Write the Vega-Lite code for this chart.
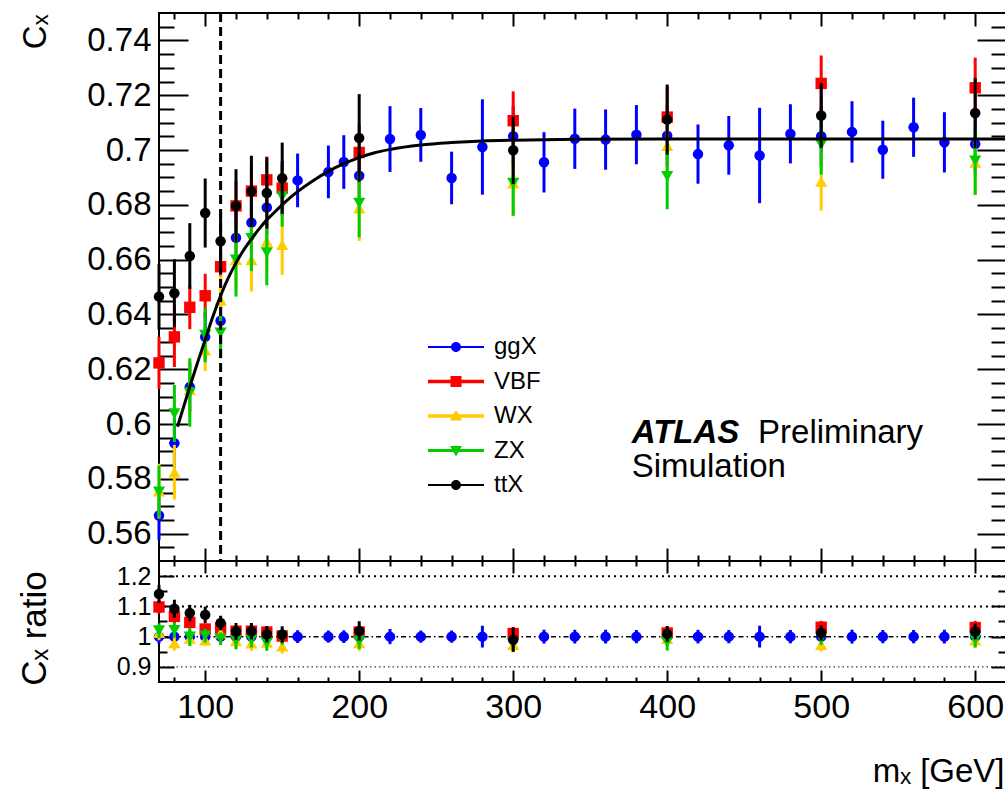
{
  "$schema": "https://vega.github.io/schema/vega-lite/v6.json",
  "padding": {"left": 16, "top": 10, "right": 2, "bottom": 0},
  "background": "white",
  "spacing": 0,
  "bounds": "flush",
  "resolve": {"scale": {"shape": "independent", "color": "independent"}, "legend": {"shape": "independent", "color": "independent"}},
  "datasets": {
    "main": [
      {"m":70,"s":"ggX","v":0.5666,"e":0.009},{"m":80,"s":"ggX","v":0.593,"e":0.009},{"m":90,"s":"ggX","v":0.6135,"e":0.009},{"m":100,"s":"ggX","v":0.6318,"e":0.009},{"m":110,"s":"ggX","v":0.6377,"e":0.009},{"m":120,"s":"ggX","v":0.668,"e":0.01},{"m":130,"s":"ggX","v":0.6735,"e":0.01},{"m":140,"s":"ggX","v":0.679,"e":0.01},{"m":150,"s":"ggX","v":0.686,"e":0.01},{"m":160,"s":"ggX","v":0.6889,"e":0.0098},{"m":180,"s":"ggX","v":0.692,"e":0.0096},{"m":190,"s":"ggX","v":0.6956,"e":0.0098},{"m":200,"s":"ggX","v":0.6906,"e":0.01},{"m":220,"s":"ggX","v":0.704,"e":0.012},{"m":240,"s":"ggX","v":0.7055,"e":0.0098},{"m":260,"s":"ggX","v":0.6898,"e":0.0096},{"m":280,"s":"ggX","v":0.7011,"e":0.0174},{"m":300,"s":"ggX","v":0.705,"e":0.011},{"m":320,"s":"ggX","v":0.6955,"e":0.011},{"m":340,"s":"ggX","v":0.7041,"e":0.011},{"m":360,"s":"ggX","v":0.7038,"e":0.011},{"m":380,"s":"ggX","v":0.7056,"e":0.0108},{"m":400,"s":"ggX","v":0.7052,"e":0.011},{"m":420,"s":"ggX","v":0.6985,"e":0.0108},{"m":440,"s":"ggX","v":0.7017,"e":0.0107},{"m":460,"s":"ggX","v":0.698,"e":0.0174},{"m":480,"s":"ggX","v":0.7059,"e":0.0108},{"m":500,"s":"ggX","v":0.705,"e":0.011},{"m":520,"s":"ggX","v":0.7066,"e":0.0112},{"m":540,"s":"ggX","v":0.7001,"e":0.0106},{"m":560,"s":"ggX","v":0.7083,"e":0.0108},{"m":580,"s":"ggX","v":0.7028,"e":0.011},{"m":600,"s":"ggX","v":0.7022,"e":0.011},
      {"m":70,"s":"VBF","v":0.6223,"e":0.0095},{"m":80,"s":"VBF","v":0.6318,"e":0.011},{"m":90,"s":"VBF","v":0.6426,"e":0.008},{"m":100,"s":"VBF","v":0.6468,"e":0.008},{"m":110,"s":"VBF","v":0.6574,"e":0.008},{"m":120,"s":"VBF","v":0.6796,"e":0.009},{"m":130,"s":"VBF","v":0.685,"e":0.009},{"m":140,"s":"VBF","v":0.6891,"e":0.0085},{"m":150,"s":"VBF","v":0.6861,"e":0.009},{"m":200,"s":"VBF","v":0.6991,"e":0.01},{"m":300,"s":"VBF","v":0.7107,"e":0.0107},{"m":400,"s":"VBF","v":0.712,"e":0.011},{"m":500,"s":"VBF","v":0.7243,"e":0.0102},{"m":600,"s":"VBF","v":0.7227,"e":0.011},
      {"m":70,"s":"WX","v":0.5755,"e":0.01},{"m":80,"s":"WX","v":0.5824,"e":0.01},{"m":90,"s":"WX","v":0.6125,"e":0.01},{"m":100,"s":"WX","v":0.6269,"e":0.0076},{"m":110,"s":"WX","v":0.6452,"e":0.009},{"m":120,"s":"WX","v":0.66,"e":0.011},{"m":130,"s":"WX","v":0.6599,"e":0.0116},{"m":140,"s":"WX","v":0.6666,"e":0.011},{"m":150,"s":"WX","v":0.6654,"e":0.011},{"m":200,"s":"WX","v":0.6788,"e":0.012},{"m":300,"s":"WX","v":0.6879,"e":0.012},{"m":400,"s":"WX","v":0.7016,"e":0.012},{"m":500,"s":"WX","v":0.6885,"e":0.0106},{"m":600,"s":"WX","v":0.6955,"e":0.012},
      {"m":70,"s":"ZX","v":0.5753,"e":0.0095},{"m":80,"s":"ZX","v":0.6038,"e":0.0104},{"m":90,"s":"ZX","v":0.6115,"e":0.0125},{"m":100,"s":"ZX","v":0.6325,"e":0.01},{"m":110,"s":"ZX","v":0.6333,"e":0.0093},{"m":120,"s":"ZX","v":0.6599,"e":0.0134},{"m":130,"s":"ZX","v":0.6678,"e":0.012},{"m":140,"s":"ZX","v":0.6626,"e":0.012},{"m":150,"s":"ZX","v":0.683,"e":0.011},{"m":200,"s":"ZX","v":0.6806,"e":0.0125},{"m":300,"s":"ZX","v":0.6879,"e":0.0119},{"m":400,"s":"ZX","v":0.6904,"e":0.012},{"m":500,"s":"ZX","v":0.702,"e":0.011},{"m":600,"s":"ZX","v":0.6961,"e":0.0124},
      {"m":70,"s":"ttX","v":0.6465,"e":0.012},{"m":80,"s":"ttX","v":0.6477,"e":0.0124},{"m":90,"s":"ttX","v":0.6613,"e":0.012},{"m":100,"s":"ttX","v":0.677,"e":0.0126},{"m":110,"s":"ttX","v":0.6667,"e":0.011},{"m":120,"s":"ttX","v":0.6796,"e":0.0134},{"m":130,"s":"ttX","v":0.6849,"e":0.013},{"m":140,"s":"ttX","v":0.6843,"e":0.013},{"m":150,"s":"ttX","v":0.6897,"e":0.013},{"m":200,"s":"ttX","v":0.7044,"e":0.016},{"m":300,"s":"ttX","v":0.6999,"e":0.0123},{"m":400,"s":"ttX","v":0.7111,"e":0.0128},{"m":500,"s":"ttX","v":0.7126,"e":0.0118},{"m":600,"s":"ttX","v":0.7135,"e":0.0128}
    ],
    "ratio": [
      {"m":70,"s":"ggX","r":1,"e":0.023},{"m":80,"s":"ggX","r":1,"e":0.021},{"m":90,"s":"ggX","r":1,"e":0.021},{"m":100,"s":"ggX","r":1,"e":0.021},{"m":110,"s":"ggX","r":1,"e":0.021},{"m":120,"s":"ggX","r":1,"e":0.021},{"m":130,"s":"ggX","r":1,"e":0.021},{"m":140,"s":"ggX","r":1,"e":0.021},{"m":150,"s":"ggX","r":1,"e":0.021},{"m":160,"s":"ggX","r":1,"e":0.021},{"m":180,"s":"ggX","r":1,"e":0.02},{"m":190,"s":"ggX","r":1,"e":0.021},{"m":200,"s":"ggX","r":1,"e":0.021},{"m":220,"s":"ggX","r":1,"e":0.025},{"m":240,"s":"ggX","r":1,"e":0.02},{"m":260,"s":"ggX","r":1,"e":0.02},{"m":280,"s":"ggX","r":1,"e":0.036},{"m":300,"s":"ggX","r":1,"e":0.0226},{"m":320,"s":"ggX","r":1,"e":0.023},{"m":340,"s":"ggX","r":1,"e":0.0227},{"m":360,"s":"ggX","r":1,"e":0.0227},{"m":380,"s":"ggX","r":1,"e":0.022},{"m":400,"s":"ggX","r":1,"e":0.0226},{"m":420,"s":"ggX","r":1,"e":0.0224},{"m":440,"s":"ggX","r":1,"e":0.022},{"m":460,"s":"ggX","r":1,"e":0.036},{"m":480,"s":"ggX","r":1,"e":0.022},{"m":500,"s":"ggX","r":1,"e":0.0226},{"m":520,"s":"ggX","r":1,"e":0.023},{"m":540,"s":"ggX","r":1,"e":0.022},{"m":560,"s":"ggX","r":1,"e":0.022},{"m":580,"s":"ggX","r":1,"e":0.0227},{"m":600,"s":"ggX","r":1,"e":0.0227},
      {"m":70,"s":"VBF","r":1.098,"e":0.022},{"m":80,"s":"VBF","r":1.067,"e":0.025},{"m":90,"s":"VBF","r":1.047,"e":0.019},{"m":100,"s":"VBF","r":1.025,"e":0.019},{"m":110,"s":"VBF","r":1.028,"e":0.018},{"m":120,"s":"VBF","r":1.018,"e":0.019},{"m":130,"s":"VBF","r":1.018,"e":0.019},{"m":140,"s":"VBF","r":1.015,"e":0.018},{"m":150,"s":"VBF","r":1.002,"e":0.019},{"m":200,"s":"VBF","r":1.015,"e":0.021},{"m":300,"s":"VBF","r":1.01,"e":0.022},{"m":400,"s":"VBF","r":1.012,"e":0.022},{"m":500,"s":"VBF","r":1.031,"e":0.021},{"m":600,"s":"VBF","r":1.03,"e":0.022},
      {"m":70,"s":"WX","r":1.013,"e":0.025},{"m":80,"s":"WX","r":0.979,"e":0.025},{"m":90,"s":"WX","r":0.994,"e":0.024},{"m":100,"s":"WX","r":0.988,"e":0.018},{"m":110,"s":"WX","r":1.011,"e":0.02},{"m":120,"s":"WX","r":0.986,"e":0.024},{"m":130,"s":"WX","r":0.978,"e":0.025},{"m":140,"s":"WX","r":0.981,"e":0.024},{"m":150,"s":"WX","r":0.968,"e":0.024},{"m":200,"s":"WX","r":0.979,"e":0.026},{"m":300,"s":"WX","r":0.973,"e":0.025},{"m":400,"s":"WX","r":0.993,"e":0.025},{"m":500,"s":"WX","r":0.973,"e":0.022},{"m":600,"s":"WX","r":0.988,"e":0.025},
      {"m":70,"s":"ZX","r":1.02,"e":0.024},{"m":80,"s":"ZX","r":1.021,"e":0.025},{"m":90,"s":"ZX","r":0.999,"e":0.03},{"m":100,"s":"ZX","r":1.003,"e":0.023},{"m":110,"s":"ZX","r":0.993,"e":0.021},{"m":120,"s":"ZX","r":0.987,"e":0.029},{"m":130,"s":"ZX","r":0.99,"e":0.026},{"m":140,"s":"ZX","r":0.979,"e":0.026},{"m":150,"s":"ZX","r":0.996,"e":0.023},{"m":200,"s":"ZX","r":0.985,"e":0.026},{"m":300,"s":"ZX","r":0.976,"e":0.025},{"m":400,"s":"ZX","r":0.982,"e":0.028},{"m":500,"s":"ZX","r":0.996,"e":0.023},{"m":600,"s":"ZX","r":0.99,"e":0.026},
      {"m":70,"s":"ttX","r":1.141,"e":0.03},{"m":80,"s":"ttX","r":1.092,"e":0.03},{"m":90,"s":"ttX","r":1.078,"e":0.027},{"m":100,"s":"ttX","r":1.072,"e":0.027},{"m":110,"s":"ttX","r":1.045,"e":0.024},{"m":120,"s":"ttX","r":1.017,"e":0.028},{"m":130,"s":"ttX","r":1.018,"e":0.027},{"m":140,"s":"ttX","r":1.008,"e":0.027},{"m":150,"s":"ttX","r":1.007,"e":0.027},{"m":200,"s":"ttX","r":1.019,"e":0.032},{"m":300,"s":"ttX","r":0.99,"e":0.04},{"m":400,"s":"ttX","r":1.009,"e":0.026},{"m":500,"s":"ttX","r":1.012,"e":0.025},{"m":600,"s":"ttX","r":1.017,"e":0.026}
    ],
    "fit": [
      {"m":82,"v":0.599},{"m":86,"v":0.6063},{"m":90,"v":0.6136},{"m":95,"v":0.6223},{"m":100,"v":0.6308},{"m":105,"v":0.6392},{"m":110,"v":0.6468},{"m":115,"v":0.6533},{"m":120,"v":0.6588},{"m":125,"v":0.6635},{"m":130,"v":0.6675},{"m":135,"v":0.6712},{"m":140,"v":0.6745},{"m":145,"v":0.6773},{"m":150,"v":0.68},{"m":155,"v":0.6825},{"m":160,"v":0.6848},{"m":170,"v":0.6888},{"m":180,"v":0.6922},{"m":190,"v":0.695},{"m":200,"v":0.6972},{"m":210,"v":0.699},{"m":220,"v":0.7002},{"m":240,"v":0.7018},{"m":260,"v":0.7027},{"m":280,"v":0.7033},{"m":300,"v":0.7036},{"m":340,"v":0.7039},{"m":400,"v":0.704},{"m":500,"v":0.704},{"m":620,"v":0.704}
    ]
  },
  "vconcat": [
    {
      "width": 847,
      "height": 548,
      "data": {"name": "main"},
      "resolve": {"axis": {"x": "independent", "y": "independent"}},
      "layer": [
        {"transform":[{"filter":"datum.s === 'ggX'"}],"mark":{"type":"errorbar","color":"#0000ff","thickness":3},
         "encoding":{"x":{"field":"m","type":"quantitative","scale":{"domain":[70,620],"nice":false,"zero":false},"axis":null},"y":{"field":"v","type":"quantitative","scale":{"domain":[0.55,0.75],"nice":false,"zero":false},"axis":null},"yError":{"field":"e"}}},
        {"transform":[{"filter":"datum.s === 'ggX'"}],"mark":{"type":"point","shape":"circle","filled":true,"color":"#0000ff","size":110,"opacity":1},
         "encoding":{"x":{"field":"m","type":"quantitative","scale":{"domain":[70,620],"nice":false,"zero":false},
           "axis":{"orient":"bottom","values":[100,200,300,400,500,600],"labels":false,"tickSize":-13,"title":null}},
           "y":{"field":"v","type":"quantitative","scale":{"domain":[0.55,0.75],"nice":false,"zero":false},
           "axis":{"orient":"left","values":[0.56,0.58,0.6,0.62,0.64,0.66,0.68,0.7,0.72,0.74],"format":"~g","ticks":false,"labelPadding":8,"labelFontSize":33,"title":"Cₓ","titleFontSize":33,"titleX":-114,"titleY":1,"titleAngle":-90,"titleAlign":"right","titleBaseline":"alphabetic"}}}},
        {"transform":[{"filter":"datum.s === 'VBF'"}],"mark":{"type":"errorbar","color":"#ff0000","thickness":3},
         "encoding":{"x":{"field":"m","type":"quantitative","scale":{"domain":[70,620],"nice":false,"zero":false},"axis":null},"y":{"field":"v","type":"quantitative","scale":{"domain":[0.55,0.75],"nice":false,"zero":false},"axis":null},"yError":{"field":"e"}}},
        {"transform":[{"filter":"datum.s === 'VBF'"}],"mark":{"type":"point","shape":"square","filled":true,"color":"#ff0000","size":130,"opacity":1},
         "encoding":{"x":{"field":"m","type":"quantitative","scale":{"domain":[70,620],"nice":false,"zero":false},
           "axis":{"orient":"bottom","values":[80,120,140,160,180,220,240,260,280,320,340,360,380,420,440,460,480,520,540,560,580],"labels":false,"tickSize":-6,"title":null}},
           "y":{"field":"v","type":"quantitative","scale":{"domain":[0.55,0.75],"nice":false,"zero":false},
           "axis":{"orient":"left","values":[0.56,0.58,0.6,0.62,0.64,0.66,0.68,0.7,0.72,0.74],"labels":false,"tickSize":-29,"title":null}}}},
        {"transform":[{"filter":"datum.s === 'WX'"}],"mark":{"type":"errorbar","color":"#ffcc00","thickness":3},
         "encoding":{"x":{"field":"m","type":"quantitative","scale":{"domain":[70,620],"nice":false,"zero":false},"axis":null},"y":{"field":"v","type":"quantitative","scale":{"domain":[0.55,0.75],"nice":false,"zero":false},"axis":null},"yError":{"field":"e"}}},
        {"transform":[{"filter":"datum.s === 'WX'"}],"mark":{"type":"point","shape":"triangle-up","filled":true,"color":"#ffcc00","size":150,"opacity":1},
         "encoding":{"x":{"field":"m","type":"quantitative","scale":{"domain":[70,620],"nice":false,"zero":false},
           "axis":{"orient":"top","values":[100,200,300,400,500,600],"labels":false,"tickSize":-13,"title":null}},
           "y":{"field":"v","type":"quantitative","scale":{"domain":[0.55,0.75],"nice":false,"zero":false},
           "axis":{"orient":"left","values":[0.555,0.565,0.57,0.575,0.585,0.59,0.595,0.605,0.61,0.615,0.625,0.63,0.635,0.645,0.65,0.655,0.665,0.67,0.675,0.685,0.69,0.695,0.705,0.71,0.715,0.725,0.73,0.735,0.745],"labels":false,"tickSize":-15,"title":null}}}},
        {"transform":[{"filter":"datum.s === 'ZX'"}],"mark":{"type":"errorbar","color":"#00cc00","thickness":3},
         "encoding":{"x":{"field":"m","type":"quantitative","scale":{"domain":[70,620],"nice":false,"zero":false},"axis":null},"y":{"field":"v","type":"quantitative","scale":{"domain":[0.55,0.75],"nice":false,"zero":false},"axis":null},"yError":{"field":"e"}}},
        {"transform":[{"filter":"datum.s === 'ZX'"}],"mark":{"type":"point","shape":"triangle-down","filled":true,"color":"#00cc00","size":150,"opacity":1},
         "encoding":{"x":{"field":"m","type":"quantitative","scale":{"domain":[70,620],"nice":false,"zero":false},
           "axis":{"orient":"top","values":[80,120,140,160,180,220,240,260,280,320,340,360,380,420,440,460,480,520,540,560,580],"labels":false,"tickSize":-6,"title":null}},
           "y":{"field":"v","type":"quantitative","scale":{"domain":[0.55,0.75],"nice":false,"zero":false},
           "axis":{"orient":"right","values":[0.56,0.58,0.6,0.62,0.64,0.66,0.68,0.7,0.72,0.74],"labels":false,"tickSize":-29,"title":null}}}},
        {"transform":[{"filter":"datum.s === 'ttX'"}],"mark":{"type":"errorbar","color":"#000000","thickness":3},
         "encoding":{"x":{"field":"m","type":"quantitative","scale":{"domain":[70,620],"nice":false,"zero":false},"axis":null},"y":{"field":"v","type":"quantitative","scale":{"domain":[0.55,0.75],"nice":false,"zero":false},"axis":null},"yError":{"field":"e"}}},
        {"transform":[{"filter":"datum.s === 'ttX'"}],"mark":{"type":"point","shape":"circle","filled":true,"color":"#000000","size":110,"opacity":1},
         "encoding":{"x":{"field":"m","type":"quantitative","scale":{"domain":[70,620],"nice":false,"zero":false},"axis":null},
           "y":{"field":"v","type":"quantitative","scale":{"domain":[0.55,0.75],"nice":false,"zero":false},
           "axis":{"orient":"right","values":[0.555,0.565,0.57,0.575,0.585,0.59,0.595,0.605,0.61,0.615,0.625,0.63,0.635,0.645,0.65,0.655,0.665,0.67,0.675,0.685,0.69,0.695,0.705,0.71,0.715,0.725,0.73,0.735,0.745],"labels":false,"tickSize":-15,"title":null}}}},
        {"data":{"name":"fit"},"mark":{"type":"line","color":"#000000","strokeWidth":3,"interpolate":"monotone"},
         "encoding":{"x":{"field":"m","type":"quantitative","scale":{"domain":[70,620],"nice":false,"zero":false},"axis":null},"y":{"field":"v","type":"quantitative","scale":{"domain":[0.55,0.75],"nice":false,"zero":false},"axis":null}}},
        {"data":{"values":[{}]},"mark":{"type":"rule","color":"#000000","strokeWidth":3,"strokeDash":[9,5]},
         "encoding":{"x":{"datum":110,"type":"quantitative","scale":{"domain":[70,620],"nice":false,"zero":false},"axis":null}}},
        {"data":{"values":[{}]},"mark":{"type":"text","text":"ATLAS","font":"Liberation Sans","fontSize":33,"fontStyle":"italic","fontWeight":"bold","align":"left","baseline":"alphabetic","color":"#000000"},
         "encoding":{"x":{"datum":377,"type":"quantitative","scale":{"domain":[70,620],"nice":false,"zero":false},"axis":null},"y":{"datum":0.5931,"type":"quantitative","scale":{"domain":[0.55,0.75],"nice":false,"zero":false},"axis":null}}},
        {"data":{"values":[{}]},"mark":{"type":"text","text":"Preliminary","font":"Liberation Sans","fontSize":33,"align":"left","baseline":"alphabetic","color":"#000000"},
         "encoding":{"x":{"datum":459,"type":"quantitative","scale":{"domain":[70,620],"nice":false,"zero":false},"axis":null},"y":{"datum":0.5931,"type":"quantitative","scale":{"domain":[0.55,0.75],"nice":false,"zero":false},"axis":null}}},
        {"data":{"values":[{}]},"mark":{"type":"text","text":"Simulation","font":"Liberation Sans","fontSize":33,"align":"left","baseline":"alphabetic","color":"#000000"},
         "encoding":{"x":{"datum":377,"type":"quantitative","scale":{"domain":[70,620],"nice":false,"zero":false},"axis":null},"y":{"datum":0.5805,"type":"quantitative","scale":{"domain":[0.55,0.75],"nice":false,"zero":false},"axis":null}}},
        {"transform":[{"filter":"false"}],"mark":{"type":"point","filled":true,"opacity":1},
         "encoding":{"x":{"field":"m","type":"quantitative","scale":{"domain":[70,620],"nice":false,"zero":false},"axis":null},"y":{"field":"v","type":"quantitative","scale":{"domain":[0.55,0.75],"nice":false,"zero":false},"axis":null},
           "color":{"field":"s","type":"nominal","scale":{"domain":["ggX","VBF","WX","ZX","ttX"],"range":["#0000ff","#ff0000","#ffcc00","#00cc00","#000000"]},
             "legend":{"title":null,"orient":"none","legendX":285,"legendY":322,"direction":"vertical","symbolSize":400,"labelFontSize":24,"labelFont":"Liberation Sans","labelColor":"#000000","labelOffset":26,"rowPadding":10.5,"padding":0,"symbolStrokeWidth":0,"symbolOpacity":1}},
           "shape":{"field":"s","type":"nominal","scale":{"domain":["ggX","VBF","WX","ZX","ttX"],"range":[
             "M-2.8,-0.1H2.8V0.1H-2.8ZM0.5,0A0.5,0.5 0 1,1 -0.5,0A0.5,0.5 0 1,1 0.5,0Z",
             "M-2.8,-0.18H2.8V0.18H-2.8ZM-0.55,-0.55H0.55V0.55H-0.55Z",
             "M-2.8,-0.18H2.8V0.18H-2.8ZM0,-0.6L0.6,0.45H-0.6Z",
             "M-2.8,-0.15H2.8V0.15H-2.8ZM0,0.6L-0.6,-0.45H0.6Z",
             "M-2.8,-0.1H2.8V0.1H-2.8ZM0.5,0A0.5,0.5 0 1,1 -0.5,0A0.5,0.5 0 1,1 0.5,0Z"]},
             "legend":{"title":null,"orient":"none","legendX":285,"legendY":322,"direction":"vertical","symbolSize":400,"labelFontSize":24,"labelFont":"Liberation Sans","labelColor":"#000000","labelOffset":26,"rowPadding":10.5,"padding":0,"symbolStrokeWidth":0,"symbolOpacity":1}}}}
      ]
    },
    {
      "width": 847,
      "height": 121,
      "data": {"name": "ratio"},
      "resolve": {"axis": {"x": "independent", "y": "independent"}},
      "layer": [
        {"data":{"values":[{}]},"mark":{"type":"rule","color":"#000000","strokeWidth":2,"strokeDash":[2,4]},
         "encoding":{"y":{"datum":1.2,"type":"quantitative","scale":{"domain":[0.85,1.25],"nice":false,"zero":false},"axis":null}}},
        {"data":{"values":[{}]},"mark":{"type":"rule","color":"#000000","strokeWidth":2,"strokeDash":[2,4]},
         "encoding":{"y":{"datum":1.1,"type":"quantitative","scale":{"domain":[0.85,1.25],"nice":false,"zero":false},"axis":null}}},
        {"data":{"values":[{}]},"mark":{"type":"rule","color":"#000000","strokeWidth":1.5,"strokeDash":[5,3,1.5,3]},
         "encoding":{"y":{"datum":1.0,"type":"quantitative","scale":{"domain":[0.85,1.25],"nice":false,"zero":false},"axis":null}}},
        {"data":{"values":[{}]},"mark":{"type":"rule","color":"#000000","strokeWidth":1,"strokeDash":[1.5,3]},
         "encoding":{"y":{"datum":0.9,"type":"quantitative","scale":{"domain":[0.85,1.25],"nice":false,"zero":false},"axis":null}}},
        {"transform":[{"filter":"datum.s === 'ggX'"}],"mark":{"type":"errorbar","color":"#0000ff","thickness":3},
         "encoding":{"x":{"field":"m","type":"quantitative","scale":{"domain":[70,620],"nice":false,"zero":false},"axis":null},"y":{"field":"r","type":"quantitative","scale":{"domain":[0.85,1.25],"nice":false,"zero":false},"axis":null},"yError":{"field":"e"}}},
        {"transform":[{"filter":"datum.s === 'ggX'"}],"mark":{"type":"point","shape":"circle","filled":true,"color":"#0000ff","size":110,"opacity":1},
         "encoding":{"x":{"field":"m","type":"quantitative","scale":{"domain":[70,620],"nice":false,"zero":false},
           "axis":{"orient":"bottom","values":[100,200,300,400,500,600],"ticks":false,"labelPadding":8,"labelFontSize":34,"title":"mₓ [GeV]","titleFontSize":33,"titleX":845,"titleY":99,"titleAlign":"right","titleAnchor":"end","titleBaseline":"alphabetic"}},
           "y":{"field":"r","type":"quantitative","scale":{"domain":[0.85,1.25],"nice":false,"zero":false},
           "axis":{"orient":"left","values":[0.9,1,1.1,1.2],"format":"~g","ticks":false,"labelPadding":8,"labelFontSize":25,"title":"Cₓ ratio","titleFontSize":35,"titleX":-114,"titleY":67,"titleAngle":-90,"titleAlign":"center","titleBaseline":"alphabetic"}}}},
        {"transform":[{"filter":"datum.s === 'VBF'"}],"mark":{"type":"errorbar","color":"#ff0000","thickness":3},
         "encoding":{"x":{"field":"m","type":"quantitative","scale":{"domain":[70,620],"nice":false,"zero":false},"axis":null},"y":{"field":"r","type":"quantitative","scale":{"domain":[0.85,1.25],"nice":false,"zero":false},"axis":null},"yError":{"field":"e"}}},
        {"transform":[{"filter":"datum.s === 'VBF'"}],"mark":{"type":"point","shape":"square","filled":true,"color":"#ff0000","size":130,"opacity":1},
         "encoding":{"x":{"field":"m","type":"quantitative","scale":{"domain":[70,620],"nice":false,"zero":false},
           "axis":{"orient":"bottom","values":[100,200,300,400,500,600],"labels":false,"tickSize":-12,"title":null}},
           "y":{"field":"r","type":"quantitative","scale":{"domain":[0.85,1.25],"nice":false,"zero":false},
           "axis":{"orient":"left","values":[0.9,1,1.1,1.2],"labels":false,"tickSize":-15,"title":null}}}},
        {"transform":[{"filter":"datum.s === 'WX'"}],"mark":{"type":"errorbar","color":"#ffcc00","thickness":3},
         "encoding":{"x":{"field":"m","type":"quantitative","scale":{"domain":[70,620],"nice":false,"zero":false},"axis":null},"y":{"field":"r","type":"quantitative","scale":{"domain":[0.85,1.25],"nice":false,"zero":false},"axis":null},"yError":{"field":"e"}}},
        {"transform":[{"filter":"datum.s === 'WX'"}],"mark":{"type":"point","shape":"triangle-up","filled":true,"color":"#ffcc00","size":150,"opacity":1},
         "encoding":{"x":{"field":"m","type":"quantitative","scale":{"domain":[70,620],"nice":false,"zero":false},
           "axis":{"orient":"bottom","values":[80,120,140,160,180,220,240,260,280,320,340,360,380,420,440,460,480,520,540,560,580],"labels":false,"tickSize":-5,"title":null}},
           "y":{"field":"r","type":"quantitative","scale":{"domain":[0.85,1.25],"nice":false,"zero":false},
           "axis":{"orient":"left","values":[0.95,1.05,1.15],"labels":false,"tickSize":-8,"title":null}}}},
        {"transform":[{"filter":"datum.s === 'ZX'"}],"mark":{"type":"errorbar","color":"#00cc00","thickness":3},
         "encoding":{"x":{"field":"m","type":"quantitative","scale":{"domain":[70,620],"nice":false,"zero":false},"axis":null},"y":{"field":"r","type":"quantitative","scale":{"domain":[0.85,1.25],"nice":false,"zero":false},"axis":null},"yError":{"field":"e"}}},
        {"transform":[{"filter":"datum.s === 'ZX'"}],"mark":{"type":"point","shape":"triangle-down","filled":true,"color":"#00cc00","size":150,"opacity":1},
         "encoding":{"x":{"field":"m","type":"quantitative","scale":{"domain":[70,620],"nice":false,"zero":false},
           "axis":{"orient":"top","values":[100,200,300,400,500,600],"labels":false,"tickSize":-12,"title":null}},
           "y":{"field":"r","type":"quantitative","scale":{"domain":[0.85,1.25],"nice":false,"zero":false},
           "axis":{"orient":"right","values":[0.9,1,1.1,1.2],"labels":false,"tickSize":-15,"title":null}}}},
        {"transform":[{"filter":"datum.s === 'ttX'"}],"mark":{"type":"errorbar","color":"#000000","thickness":3},
         "encoding":{"x":{"field":"m","type":"quantitative","scale":{"domain":[70,620],"nice":false,"zero":false},"axis":null},"y":{"field":"r","type":"quantitative","scale":{"domain":[0.85,1.25],"nice":false,"zero":false},"axis":null},"yError":{"field":"e"}}},
        {"transform":[{"filter":"datum.s === 'ttX'"}],"mark":{"type":"point","shape":"circle","filled":true,"color":"#000000","size":110,"opacity":1},
         "encoding":{"x":{"field":"m","type":"quantitative","scale":{"domain":[70,620],"nice":false,"zero":false},
           "axis":{"orient":"top","values":[80,120,140,160,180,220,240,260,280,320,340,360,380,420,440,460,480,520,540,560,580],"labels":false,"tickSize":-5,"title":null}},
           "y":{"field":"r","type":"quantitative","scale":{"domain":[0.85,1.25],"nice":false,"zero":false},
           "axis":{"orient":"right","values":[0.95,1.05,1.15],"labels":false,"tickSize":-8,"title":null}}}}
      ]
    }
  ],
  "config": {
    "view": {"stroke": "#000000", "strokeWidth": 2},
    "axis": {"domain": false, "grid": false, "tickColor": "#000000", "tickWidth": 2, "labelFont": "Liberation Sans", "titleFont": "Liberation Sans", "labelColor": "#000000", "titleColor": "#000000", "titleFontWeight": "normal", "labelFlush": false, "labelOverlap": false},
    "text": {"font": "Liberation Sans"}
  }
}
